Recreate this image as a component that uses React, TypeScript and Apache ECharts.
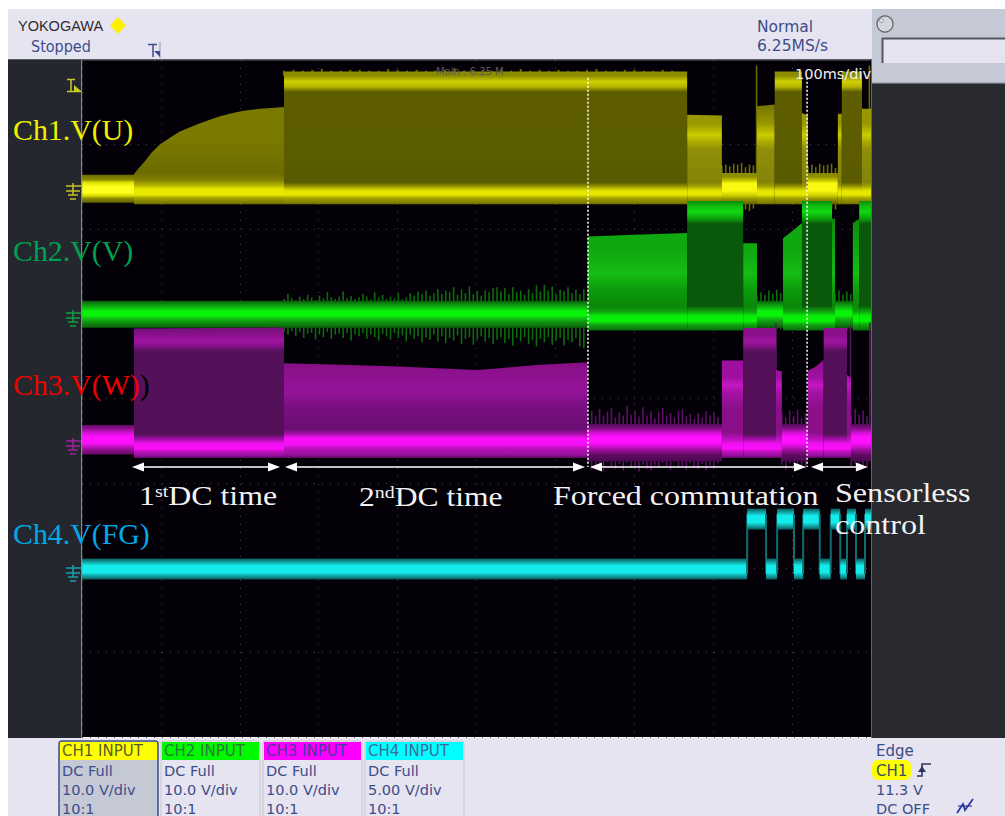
import React, { useEffect, useRef } from "react";
import * as echarts from "echarts";

// ---- acquisition facts (time in ms, levels in volts above each channel's ground)
const timeMax = 1000;
const timePerDiv = 100;
const divCount = 8;

const ch1Ground = 6.464;
const ch2Ground = 4.975;
const ch3Ground = 3.498;
const ch4Ground = 1.985;
const ch1VoltsPerDiv = 10;
const ch2VoltsPerDiv = 10;
const ch3VoltsPerDiv = 10;
const ch4VoltsPerDiv = 5;

// ---- envelope spans: [shape, top edge points]
const ch1Spans: any[] = [
  ["left", [[0, 1.8], [65.9, 1.8]]],
  ["rise", [[65.9, 1.9], [72, 2.6], [79.8, 3.4], [88, 4.4], [98.9, 5.4], [112, 6.2], [124, 6.9], [137, 7.4], [149.6, 7.9], [162, 8.3], [175, 8.7], [191, 9.1], [205, 9.35], [225.6, 9.6], [240, 9.7], [256, 9.8]]],
  ["full", [[256, 14.0], [767, 14.0]]],
  ["mid", [[767, 8.9], [811, 8.8]]],
  ["base", [[811, 2.0], [855.5, 2.0]]],
  ["mid", [[855.5, 9.9], [878, 10.1]]],
  ["full", [[878, 14.0], [912.5, 14.0]]],
  ["mid", [[912.5, 9.1], [920, 8.8]]],
  ["base", [[920, 2.0], [958, 2.0]]],
  ["mid", [[958, 9.0], [963, 9.0]]],
  ["full", [[963, 14.0], [988.6, 14.0]]],
  ["mid", [[988.6, 9.6], [1000, 9.6]]],
];
const ch2Spans: any[] = [
  ["base", [[0, 1.8], [641, 1.8]]],
  ["mid", [[641, 9.4], [700, 9.6], [767, 9.8]]],
  ["full", [[767, 13.6], [838, 13.6]]],
  ["mid", [[838, 8.6], [855.5, 8.6]]],
  ["base", [[855.5, 1.8], [888.5, 1.8]]],
  ["mid", [[888.5, 9.2], [900, 10.0], [912.5, 11.0]]],
  ["full", [[912.5, 13.6], [950.6, 13.6]]],
  ["mid", [[950.6, 11.5], [954.4, 11.5]]],
  ["base", [[954.4, 1.8], [977, 1.8]]],
  ["mid", [[977, 11.0], [985, 11.5]]],
  ["full", [[985, 13.6], [1000, 13.6]]],
];
const ch3Spans: any[] = [
  ["base", [[0, 1.9], [65.9, 1.9]]],
  ["full", [[65.9, 13.3], [256, 13.4]]],
  ["sag", [[256, 9.2], [330, 9.0], [400, 8.8], [450, 8.6], [500, 8.4], [530, 8.6], [580, 9.0], [641, 9.3]]],
  ["busy", [[641, 2.0], [811, 2.0]]],
  ["mid", [[811, 9.5], [838, 9.5]]],
  ["full", [[838, 13.35], [879.6, 13.35]]],
  ["mid", [[879.6, 8.4], [887, 8.2]]],
  ["busy", [[887, 2.0], [920, 2.0]]],
  ["mid", [[920, 8.3], [930, 8.8], [940, 9.6]]],
  ["full", [[940, 13.35], [969.6, 13.35]]],
  ["mid", [[969.6, 7.8], [974.6, 7.5]]],
  ["busy", [[974.6, 2.0], [1000, 2.0]]],
];
// FG logic trace: time of each change and the state that follows it
const ch4Times = [0, 843, 867, 881, 902.4, 914, 935, 949, 961, 969.6, 981, 992.4, 1000];
const ch4States = [0, 1, 0, 1, 0, 1, 0, 1, 0, 1, 0, 1];
const ch4HighVolts = 2.95;

// ---- switching noise: [start ms, spikes up (V), spikes down (V)], one spike every 5 ms
const ch1Noise: any[] = [
  [811, [2.9, 3.0, 2.8, 3.1, 3.0, 3.2, 2.7, 3.0, 2.9], [-2.2, -2.4, -2.1, -2.6, -2.2, -2.7, -2.3, -2.5, -2.2]],
  [920, [2.8, 3.0, 2.7, 3.1, 2.9, 3.0, 3.1, 2.6], [-2.1, -2.4, -2.2, -2.3, -2.1, -2.4, -2.2, -2.3]],
  [855, [14.7], [0]],
  [998, [14.7], [0]],
];
const ch1TopFuzz = [14.1, 14.2, 14.1, 14.2, 14.3, 14.1, 14.1, 14.2, 14.2, 14.1, 14.1, 14.3, 14.2, 14.1, 14.2, 14.1, 14.1, 14.2, 14.4, 14.1, 14.1, 14.2, 14.1, 14.2, 14.1, 14.3, 14.1, 14.2, 14.1, 14.2, 14.1, 14.1, 14.2, 14.3, 14.1, 14.1, 14.2, 14.2, 14.1, 14.1, 14.2, 14.1];
const ch2NoiseUp = [2.0, 2.6, 2.1, 1.9, 2.3, 2.0, 2.5, 2.2, 1.9, 2.4, 2.1, 2.8, 2.2, 2.0, 2.3, 2.9, 2.1, 2.4, 2.0, 2.2, 2.6, 2.3, 2.0, 2.8, 2.2, 2.5, 2.0, 2.3, 2.1, 2.7, 2.0, 2.2, 2.7, 2.4, 2.9, 2.6, 3.0, 2.4, 2.7, 3.2, 2.6, 3.0, 2.8, 3.4, 2.5, 3.1, 2.7, 3.5, 2.6, 3.0, 2.4, 3.0, 2.8, 3.3, 3.4, 2.9, 3.3, 2.6, 3.4, 2.8, 3.0, 2.5, 3.2, 2.7, 3.6, 2.9, 3.7, 3.0, 3.5, 2.6, 3.1, 2.9, 3.4, 2.7, 3.1, 2.6, 3.2];
const ch2NoiseDown = [-1.9, -2.2, -1.8, -2.4, -1.9, -2.6, -2.1, -2.0, -2.8, -2.2, -2.5, -1.9, -2.7, -2.2, -2.1, -2.6, -2.0, -2.9, -2.2, -2.4, -2.0, -2.7, -2.2, -2.5, -2.9, -2.1, -2.4, -2.8, -2.0, -2.6, -2.3, -3.0, -2.2, -2.7, -2.4, -3.1, -2.5, -2.8, -2.2, -3.0, -2.4, -3.2, -2.6, -2.9, -2.3, -3.3, -2.7, -2.5, -3.4, -2.8, -2.4, -3.0, -2.6, -3.3, -2.8, -2.5, -3.2, -2.7, -3.5, -2.6, -3.0, -2.5, -3.3, -2.8, -3.6, -2.7, -3.1, -2.5, -3.4, -2.9, -2.6, -3.5, -2.8, -3.1, -2.6, -3.6, -3.8];
const ch2NoiseExtra: any[] = [
  [855.5, [2.4, 2.8, 2.5, 3.0, 2.6, 3.1, 2.7], [-1.6, -1.6, -1.6, -1.6, -1.6, -1.6, -1.6]],
  [954.4, [2.6, 3.0, 2.5, 2.9, 2.6], [-1.6, -1.6, -1.6, -1.6, -1.6]],
];
const ch3Noise: any[] = [
  [641,
    [3.2, 3.6, 2.9, 3.8, 3.0, 3.5, 3.9, 2.8, 3.4, 3.0, 4.2, 3.1, 3.6, 2.9, 4.0, 3.0, 3.5, 2.7, 3.4, 3.9, 3.0, 3.3, 2.8, 3.6, 3.8, 2.9, 3.2, 2.6, 3.3, 2.8, 3.5, 3.0, 3.4, 2.8],
    [-2.6, -3.4, -2.8, -3.1, -3.6, -2.5, -3.0, -3.3, -2.7, -3.5, -2.6, -3.2, -3.0, -3.6, -2.8, -3.3, -3.5, -2.9, -3.2, -2.6, -3.0, -3.4, -2.5, -3.1, -2.9, -3.4, -2.6, -3.0, -3.3, -2.7, -3.5, -2.9, -3.2, -2.6]],
  [887, [3.4, 2.8, 3.6, 3.0, 3.7, 2.7, 3.3], [-2.8, -3.4, -2.6, -3.2, -3.5, -2.9, -3.3]],
  [975, [3.0, 3.8, 3.1, 3.6, 2.9], [-3.1, -2.7, -3.4, -2.9, -3.2]],
  [879.6, [13.9], [0]],
  [974, [13.6], [0]],
  [998.5, [14.0], [0]],
];

// ---- brightness against level: [volts, colour]
const ch1Profiles: any = {
  left: [[1.8, "#6a6a00"], [1.2, "#8c8c00"], [0.9, "#dede00"], [0.4, "#ffff20"], [-0.3, "#ffff20"], [-0.7, "#d8d800"], [-1.0, "#8c8c00"], [-1.5, "#5c5c00"]],
  base: [[2.1, "#626200"], [1.6, "#8c8c00"], [1.1, "#c8c800"], [0.8, "#f8f810"], [-0.1, "#f8f810"], [-0.7, "#c8c800"], [-1.0, "#9a9a00"], [-1.7, "#5e5e00"]],
  rise: [[10, "#7e7e00"], [6, "#7a7a00"], [2, "#6c6c00"], [1.2, "#7e7e00"], [0.6, "#b0b000"], [0.1, "#e8e800"], [-0.6, "#e8e800"], [-0.9, "#a6a600"], [-1.7, "#6a6a00"]],
  full: [[14.2, "#747400"], [13.5, "#8c8c00"], [12.8, "#d0d000"], [12.2, "#b4b400"], [11.6, "#5e5e00"], [0.9, "#5a5a00"], [0.5, "#8c8c00"], [-0.1, "#e6e600"], [-0.6, "#e6e600"], [-0.95, "#a4a400"], [-1.7, "#707000"]],
  mid: [[10.1, "#747400"], [7.8, "#989800"], [6.5, "#cccc00"], [5.6, "#a8a800"], [4.8, "#8f8f08"], [0.9, "#848408"], [0.5, "#9c9c00"], [-0.1, "#e6e600"], [-0.6, "#e6e600"], [-0.95, "#a4a400"], [-1.7, "#707000"]],
};
const ch2Profiles: any = {
  base: [[1.8, "#0a560a"], [1.4, "#0c900c"], [1.0, "#10b810"], [0.6, "#08f008"], [0.1, "#08f808"], [-0.3, "#10c010"], [-0.7, "#0f960f"], [-1.4, "#0a5e0a"]],
  full: [[13.6, "#0a880a"], [13.0, "#10bc10"], [12.3, "#12d812"], [11.4, "#0a980a"], [10.9, "#0a580a"], [1.2, "#0a580a"], [0.6, "#109a10"], [0.0, "#08ec08"], [-0.6, "#08f408"], [-1.0, "#10a810"], [-1.7, "#0a6a0a"]],
  mid: [[11.5, "#0a8a0a"], [7.8, "#10a810"], [5.0, "#14bc14"], [3.0, "#0c9a0c"], [1.2, "#0a880a"], [0.6, "#109a10"], [0.0, "#08ec08"], [-0.6, "#08f408"], [-1.0, "#10a810"], [-1.7, "#0a6a0a"]],
};
const ch3Profiles: any = {
  base: [[1.9, "#5e0a60"], [1.4, "#960f96"], [1.0, "#d010d0"], [0.5, "#ff10ff"], [-0.2, "#ff10ff"], [-0.6, "#d010d0"], [-1.0, "#960f96"], [-1.6, "#5f0a60"]],
  busy: [[2.0, "#520a58"], [1.4, "#8c0f8c"], [1.0, "#d010d0"], [0.5, "#ff10ff"], [-0.2, "#ff10ff"], [-0.7, "#d010d0"], [-1.1, "#960f96"], [-1.7, "#5f0a60"], [-2.4, "#4a0a50"]],
  full: [[13.4, "#72107a"], [12.6, "#88108a"], [11.8, "#a014a0"], [11.2, "#84108a"], [10.6, "#55105a"], [0.8, "#55105a"], [0.3, "#9810a0"], [-0.3, "#ec10ec"], [-0.9, "#ff10ff"], [-1.3, "#b810b8"], [-1.7, "#9810a0"], [-2.0, "#5f0a60"]],
  sag: [[9.3, "#7c1082"], [8.8, "#8a1088"], [6.0, "#95149a"], [4.0, "#7a0f82"], [1.4, "#6a0f74"], [0.9, "#a010a4"], [0.3, "#f810f8"], [-0.4, "#f810f8"], [-0.9, "#b810b8"], [-1.6, "#9810a0"], [-2.0, "#5f0a60"]],
  mid: [[9.6, "#88108a"], [7.5, "#a010a0"], [6.6, "#c418c4"], [5.8, "#a812a8"], [4.0, "#8a108a"], [1.0, "#8a108a"], [0.5, "#a810a8"], [-0.3, "#ec10ec"], [-0.9, "#ff10ff"], [-1.3, "#b810b8"], [-1.7, "#9810a0"], [-2.0, "#5f0a60"]],
};
const ch4Stops: any[] = [[0.62, "#0a5a5a"], [0.42, "#10a0a0"], [0.2, "#14ecec"], [-0.2, "#14ecec"], [-0.42, "#10a0a0"], [-0.62, "#0a5a5a"]];

const ch1NoiseColor = "#6c6c00";
const ch2NoiseColor = "#0b6c0b";
const ch3NoiseColor = "#5e0f66";
const ch4EdgeColor = "#0c6e6e";

// ---- annotations
const dividerTimes = [641.3, 919];
const phaseArrows = [[63.4, 251], [257.3, 637.5], [643.8, 917.6], [924, 996]];
const arrowLevel = 3.19;
const dividerTop = 7.79;

const headerColor = "#3c4d8a";
const uiFont = "'DejaVu Sans', sans-serif";
const serifFont = "'Liberation Serif', serif";

const cardNames = ["CH1 INPUT", "CH2 INPUT", "CH3 INPUT", "CH4 INPUT"];
const cardColors = ["#ffff00", "#00f800", "#ff00ff", "#00ffff"];
const cardInk = ["#5a6020", "#2a7a3a", "#4a3a9a", "#3a6a9a"];
const cardCoupling = ["DC Full", "DC Full", "DC Full", "DC Full"];
const cardScale = ["10.0 V/div", "10.0 V/div", "10.0 V/div", "5.00 V/div"];
const cardProbe = ["10:1", "10:1", "10:1", "10:1"];
const cardLeft = [60, 162, 264, 366];

function gradientFor(stops: any[], top: number, bottom: number) {
  const span = top - bottom;
  const kept = stops.filter((s) => s[0] <= top && s[0] >= bottom);
  return new echarts.graphic.LinearGradient(
    0, 0, 0, 1,
    kept.map((s) => ({ offset: (top - s[0]) / span, color: s[1] }))
  );
}

function spanSeries(spans: any[], profiles: any, ground: number, vdiv: number) {
  return {
    type: "custom",
    silent: true,
    clip: true,
    coordinateSystem: "cartesian2d",
    encode: { x: [0, 1] },
    data: spans.map((s) => [s[1][0][0], s[1][s[1].length - 1][0]]),
    renderItem: (p: any, api: any) => {
      const span = spans[p.dataIndex];
      const stops = profiles[span[0]];
      const bottom = stops[stops.length - 1][0];
      const top = Math.max(...span[1].map((q: number[]) => q[1]));
      const first = span[1][0][0];
      const last = span[1][span[1].length - 1][0];
      const pts = span[1].map((q: number[]) => api.coord([q[0], ground + q[1] / vdiv]));
      pts.push(api.coord([last, ground + bottom / vdiv]));
      pts.push(api.coord([first, ground + bottom / vdiv]));
      return {
        type: "polygon",
        shape: { points: pts },
        style: { fill: gradientFor(stops, top, bottom), stroke: null },
      };
    },
  };
}

function noiseSeries(bursts: any[], color: string, ground: number, vdiv: number, step = 5, width = 1.6) {
  const spikes: number[][] = [];
  bursts.forEach((b) => {
    b[1].forEach((up: number, i: number) => {
      spikes.push([b[0] + i * step, up, b[2][i]]);
    });
  });
  return {
    type: "custom",
    silent: true,
    clip: true,
    coordinateSystem: "cartesian2d",
    encode: { x: 0 },
    data: spikes,
    renderItem: (p: any, api: any) => {
      const s = spikes[p.dataIndex];
      const a = api.coord([s[0], ground + s[1] / vdiv]);
      const b = api.coord([s[0], ground + s[2] / vdiv]);
      return {
        type: "line",
        shape: { x1: a[0], y1: a[1], x2: b[0], y2: b[1] },
        style: { stroke: color, lineWidth: width },
      };
    },
  };
}

function ch4Series() {
  const idx = ch4States.map((_, i) => [ch4Times[i], ch4Times[i + 1]]);
  return {
    type: "custom",
    silent: true,
    clip: true,
    coordinateSystem: "cartesian2d",
    encode: { x: [0, 1] },
    data: idx,
    renderItem: (p: any, api: any) => {
      const i = p.dataIndex;
      const lvl = ch4States[i] ? ch4HighVolts : 0;
      const tl = api.coord([ch4Times[i], ch4Ground + (lvl + 0.62) / ch4VoltsPerDiv]);
      const br = api.coord([ch4Times[i + 1], ch4Ground + (lvl - 0.62) / ch4VoltsPerDiv]);
      const lo = api.coord([ch4Times[i], ch4Ground - 0.3 / ch4VoltsPerDiv]);
      const hi = api.coord([ch4Times[i], ch4Ground + (ch4HighVolts + 0.3) / ch4VoltsPerDiv]);
      const children: any[] = [];
      if (i > 0) {
        children.push({
          type: "line",
          shape: { x1: lo[0], y1: lo[1], x2: hi[0], y2: hi[1] },
          style: { stroke: ch4EdgeColor, lineWidth: 2 },
        });
      }
      children.push({
        type: "rect",
        shape: { x: tl[0], y: tl[1], width: br[0] - tl[0], height: br[1] - tl[1] },
        style: { fill: gradientFor(ch4Stops, 0.62, -0.62), stroke: null },
      });
      return { type: "group", children };
    },
  };
}

function dividerSeries() {
  return {
    type: "custom",
    silent: true,
    clip: true,
    coordinateSystem: "cartesian2d",
    encode: { x: 0 },
    z: 4,
    data: dividerTimes.map((t) => [t]),
    renderItem: (p: any, api: any) => {
      const t = dividerTimes[p.dataIndex];
      const a = api.coord([t, dividerTop]);
      const b = api.coord([t, arrowLevel]);
      return {
        type: "line",
        shape: { x1: a[0], y1: a[1], x2: b[0], y2: b[1] },
        style: { stroke: "#ffffff", lineWidth: 1.5, lineDash: [2, 2] },
      };
    },
  };
}

function arrowSeries() {
  return {
    type: "custom",
    silent: true,
    clip: true,
    coordinateSystem: "cartesian2d",
    encode: { x: [0, 1] },
    z: 4,
    data: phaseArrows,
    renderItem: (p: any, api: any) => {
      const [t0, t1] = phaseArrows[p.dataIndex];
      const a = api.coord([t0, arrowLevel]);
      const b = api.coord([t1, arrowLevel]);
      const size = 12;
      const half = 4.5;
      return {
        type: "group",
        children: [
          { type: "line", shape: { x1: a[0] + size - 1, y1: a[1], x2: b[0] - size + 1, y2: b[1] }, style: { stroke: "#ffffff", lineWidth: 1.6 } },
          { type: "polygon", shape: { points: [[a[0], a[1]], [a[0] + size, a[1] - half], [a[0] + size, a[1] + half]] }, style: { fill: "#ffffff" } },
          { type: "polygon", shape: { points: [[b[0], b[1]], [b[0] - size, b[1] - half], [b[0] - size, b[1] + half]] }, style: { fill: "#ffffff" } },
        ],
      };
    },
  };
}

// ---- panel pieces
const rect = (x: number, y: number, w: number, h: number, fill: string, z = 3, extra: any = {}) => ({
  type: "rect", z, silent: true, shape: { x, y, width: w, height: h, ...extra }, style: { fill },
});
const label = (x: number, y: number, text: string, size: number, fill: string, family = uiFont, z = 10, scaleX = 1) => ({
  type: "text", z, silent: true, x, y, scaleX,
  style: { text, fontSize: size, fontFamily: family, fill, textVerticalAlign: "middle", verticalAlign: "middle" },
});
const segment = (x1: number, y1: number, x2: number, y2: number, stroke: string, lineWidth = 1.5, z = 8) => ({
  type: "line", z, silent: true, shape: { x1, y1, x2, y2 }, style: { stroke, lineWidth },
});
const groundMark = (y: number, color: string) => [
  segment(66, y - 4, 81, y - 4, color, 1.5),
  segment(73, y - 7, 73, y + 5, color, 1.5),
  segment(66, y + 1, 80, y + 1, color, 1.5),
  segment(68, y + 5, 78, y + 5, color, 1.5),
  segment(70, y + 9, 76, y + 9, color, 1.5),
];

function buildGraphics() {
  const items: any[] = [
    rect(8, 9, 864, 50, "#e6e4f0"),
    rect(8, 59, 864, 1.5, "#5a5c64"),
    rect(8, 60, 73, 678, "#24282e"),
    rect(81, 60, 1.2, 678, "#7f8790"),
    rect(8, 738, 997, 78, "#e6e4f0"),
    rect(871, 60, 2, 678, "#62666c", 6),
    rect(872, 9, 133, 74, "#c5c9d6", 6),
    rect(872, 83, 133, 655, "#282a30", 6),
    rect(872, 82, 133, 1.5, "#a8acb8", 6),
    rect(882, 38, 123, 25, "#e6e4f0", 7),
    segment(882, 38.5, 1005, 38.5, "#55555c", 2),
    segment(882.5, 38, 882.5, 63, "#55555c", 2),
    { type: "circle", z: 7, silent: true, shape: { cx: 885, cy: 24, r: 8 }, style: { fill: "#d4d6de", stroke: "#606060", lineWidth: 1.2 } },
    { type: "circle", z: 8, silent: true, shape: { cx: 881.5, cy: 20.5, r: 2 }, style: { fill: "#e6e4f0", stroke: "#808080", lineWidth: 0.8 } },
    label(18, 26, "YOKOGAWA", 14.5, "#2c2c30", "'Liberation Sans', sans-serif"),
    { type: "polygon", z: 10, silent: true, shape: { points: [[118, 17], [126, 25.5], [118, 34], [110, 25.5]] }, style: { fill: "#fff000" } },
    label(31, 47, "Stopped", 16, headerColor, uiFont, 10, 0.9),
    label(757, 27, "Normal", 15.5, headerColor),
    label(757, 46, "6.25MS/s", 15.5, headerColor),
    segment(148, 44.5, 157, 44.5, "#3c4d8a", 1.5),
    segment(153, 44, 153, 57, "#3c4d8a", 1.5),
    segment(160, 42, 160, 58, "#8a94b8", 1),
    { type: "polygon", z: 8, silent: true, shape: { points: [[154, 51], [160, 51], [160, 57]] }, style: { fill: "#3c4d8a" } },
    label(436, 71, "Main : 6.25 M", 10, "#5a5a5a", uiFont, 5),
    label(795, 74, "100ms/div", 14.5, "#f0f0f0", uiFont, 5),
    segment(67, 79.5, 75, 79.5, "#c8c828", 1.5),
    segment(71, 79, 71, 91, "#c8c828", 1.5),
    segment(67, 91.5, 81, 91.5, "#c8c828", 1.5),
    { type: "polygon", z: 8, silent: true, shape: { points: [[74, 91], [74, 85], [81, 91]] }, style: { fill: "#c8c828" } },
    ...groundMark(190, "#c4c428"),
    ...groundMark(317, "#10a040"),
    ...groundMark(445, "#a020a0"),
    ...groundMark(572, "#18a0b0"),
  ];

  // channel cards
  cardNames.forEach((name, i) => {
    const x = cardLeft[i];
    const selected = i === 0;
    items.push({ type: "rect", z: 3, silent: true, shape: { x: x - 1, y: 741, width: 99, height: 80, r: 3 }, style: { fill: selected ? "#c5c9d6" : "#e6e4f0", stroke: selected ? "#3c4d8a" : "#c8c8d0", lineWidth: selected ? 1.5 : 1 } });
    items.push(rect(x, 742, 97, 18, cardColors[i], 4));
    items.push(label(x + 2, 751, name, 15, cardInk[i]));
    items.push(label(x + 2, 771, cardCoupling[i], 14.5, headerColor));
    items.push(label(x + 2, 790, cardScale[i], 14.5, headerColor));
    items.push(label(x + 2, 809, cardProbe[i], 14.5, headerColor));
  });

  // trigger panel
  items.push(label(876, 751, "Edge", 15, headerColor));
  items.push({ type: "rect", z: 4, silent: true, shape: { x: 872, y: 760, width: 39, height: 20, r: 6 }, style: { fill: "#ffff00" } });
  items.push(label(876, 771, "CH1", 15, "#3c4d5a"));
  items.push({ type: "polyline", z: 8, silent: true, shape: { points: [[917, 776], [922, 776], [922, 764], [931, 764]] }, style: { stroke: "#2c3460", lineWidth: 1.6, fill: "none" } });
  items.push({ type: "polygon", z: 8, silent: true, shape: { points: [[922, 766], [926, 772], [918, 772]] }, style: { fill: "#2c3460" } });
  items.push(label(876, 790, "11.3 V", 14.5, headerColor));
  items.push(label(876, 809, "DC OFF", 14.5, headerColor));
  items.push({ type: "polyline", z: 8, silent: true, shape: { points: [[957, 813], [963, 804], [965, 810], [973, 799]] }, style: { stroke: "#2c3aa0", lineWidth: 1.8, fill: "none" } });
  items.push(segment(958, 806, 972, 806, "#2c3aa0", 1.2));

  // annotations
  const anno = (x: number, y: number, text: string, fill: string, extra: any = {}) => ({
    type: "text", z: 20, silent: true, x, y, scaleX: 0.995,
    style: { text, fontSize: 30, fontFamily: serifFont, fill, verticalAlign: "middle", textVerticalAlign: "middle", ...extra },
  });
  items.push(anno(13, 129.5, "Ch1.V(U)", "#f0f000"));
  items.push(anno(13, 250.5, "Ch2.V(V)", "#00a050"));
  items.push(anno(13, 384, "{a|Ch3.V(W)}{b|)}", "#f00000", {
    rich: {
      a: { fontSize: 30, fontFamily: serifFont, fill: "#f00000" },
      b: { fontSize: 30, fontFamily: serifFont, fill: "#000000" },
    },
  }));
  items.push(anno(13, 533.5, "Ch4.V(FG)", "#00a8e8"));
  const small = { fontSize: 27, fontFamily: serifFont };
  const rich = (fill: string) => ({
    a: { ...small, fill },
    s: { fontSize: 17, fontFamily: serifFont, fill, verticalAlign: "top" },
  });
  const white = "#f2f2f2";
  items.push({ ...anno(139, 496, "{a|1}{s|st}{a|DC time}", white, { rich: rich(white) }), scaleX: 1.18 });
  items.push({ ...anno(359, 497, "{a|2}{s|nd}{a|DC time}", white, { rich: rich(white) }), scaleX: 1.17 });
  items.push({ ...anno(553, 496, "Forced commutation", white, small), scaleX: 1.185 });
  items.push({ ...anno(835, 493, "Sensorless", white, small), scaleX: 1.19 });
  items.push({ ...anno(835, 525, "control", white, small), scaleX: 1.19 });
  return items;
}

export default function App() {
  const ref = useRef<HTMLDivElement>(null);
  useEffect(() => {
    const chart = echarts.init(ref.current!, null, { renderer: "svg" });
    const dots = { show: true, lineStyle: { color: "#444448", width: 1, type: [1, 7] as any } };
    chart.setOption({
      animation: false,
      backgroundColor: "#ffffff",
      grid: { left: 82, top: 60, width: 789, height: 677, show: true, backgroundColor: "#040008", borderWidth: 0, z: 0 },
      xAxis: { type: "value", min: 0, max: timeMax, interval: timePerDiv, axisLine: { show: false }, axisTick: { show: false }, axisLabel: { show: false }, splitLine: dots },
      yAxis: { type: "value", min: 0, max: divCount, interval: 1, axisLine: { show: false }, axisTick: { show: false }, axisLabel: { show: false }, splitLine: dots },
      series: [
        noiseSeries([[256, ch1TopFuzz, ch1TopFuzz.map(() => 13.5)]], ch1NoiseColor, ch1Ground, ch1VoltsPerDiv, 12, 2),
        noiseSeries(ch1Noise, ch1NoiseColor, ch1Ground, ch1VoltsPerDiv),
        spanSeries(ch1Spans, ch1Profiles, ch1Ground, ch1VoltsPerDiv),
        noiseSeries([[256, ch2NoiseUp, ch2NoiseDown], ...ch2NoiseExtra], ch2NoiseColor, ch2Ground, ch2VoltsPerDiv),
        spanSeries(ch2Spans, ch2Profiles, ch2Ground, ch2VoltsPerDiv),
        noiseSeries(ch3Noise, ch3NoiseColor, ch3Ground, ch3VoltsPerDiv),
        spanSeries(ch3Spans, ch3Profiles, ch3Ground, ch3VoltsPerDiv),
        ch4Series(),
        dividerSeries(),
        arrowSeries(),
      ],
      graphic: { elements: buildGraphics() },
    });
    return () => chart.dispose();
  }, []);
  return <div ref={ref} style={{ position: "absolute", left: 0, top: 0, width: 1005, height: 816, overflow: "hidden" }} />;
}
